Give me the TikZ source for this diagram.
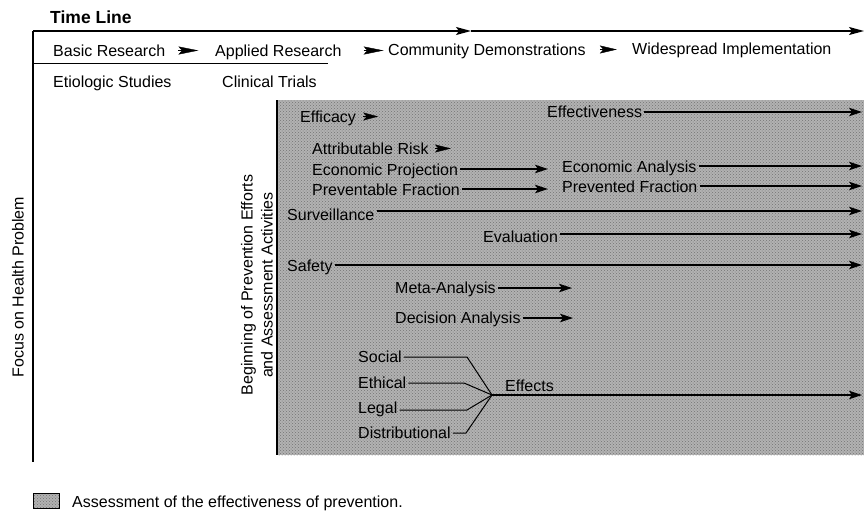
\documentclass[tikz,border=0pt]{standalone}
\usepackage{fontspec}
\setmainfont{Liberation Sans}
\usetikzlibrary{arrows.meta,patterns}
\begin{document}
\begin{tikzpicture}[x=1pt,y=-1pt,
  lbl/.style={anchor=base west, inner xsep=2pt, inner ysep=1pt, font=\fontsize{16}{20}\selectfont},
  heading/.style={anchor=base west, inner sep=0pt, font=\bfseries\fontsize{17.5}{21}\selectfont},
  rotlbl/.style={rotate=90, anchor=center, inner sep=0pt, font=\fontsize{16}{20}\selectfont},
  axis/.style={line width=1.1pt},
  timeline/.style={line width=1.3pt, -{Stealth[length=15pt,width=8pt,inset=3pt]}},
  conn/.style={line width=1.1pt, -{Stealth[length=13pt,width=8.5pt,inset=3pt]}},
  branch/.style={line width=1pt},
  tipmark/.style={line width=0.4pt, -{Stealth[length=#1,width=8pt,inset=3.5pt]}},
  tipmark/.default=18pt,
  assess/.style={fill=black!30},
  assessdots/.style={pattern=crosshatch dots, pattern color=black!55},
]
\useasboundingbox (0,0) rectangle (864,512);

% shaded assessment region and its left border
\fill[assess] (277,100) rectangle (864,455);
\fill[assessdots] (277,100) rectangle (864,455);
\coordinate (begTop) at (277,100);
\coordinate (begBot) at (277,455);
\draw[axis] (begTop) -- (begBot);

% time line frame
\node[heading] (title) at (50,23) {Time Line};
\coordinate (tl0) at (33,31);
\coordinate (tlm) at (471,31);
\coordinate (tl1) at (864,31);
\coordinate (axbot) at (33,462);
\draw[timeline] (tl0) -- (tlm);
\draw[timeline] (tlm) -- (tl1);
\draw[axis] (tl0) -- (axbot);
\coordinate (sep0) at (33,63);
\coordinate (sep1) at (328,63);
\draw[line width=0.9pt] (sep0) -- (sep1);

% research stages
\node[lbl] (basic) at (51,56) {Basic Research};
\node[lbl] (applied) at (213,56) {Applied Research};
\node[lbl] (commun) at (386,55) {Community Demonstrations};
\node[lbl] (wide) at (630,54) {Widespread Implementation};
\draw[tipmark=20pt] ([xshift=11pt,yshift=5.5pt]basic.base east) -- ++(20pt,0);
\draw[tipmark=20pt] ([xshift=20pt,yshift=5.5pt]applied.base east) -- ++(20pt,0);
\draw[tipmark=17pt] ([xshift=12pt,yshift=5.5pt]commun.base east) -- ++(17pt,0);

\node[lbl] (etio) at (51,87) {Etiologic Studies};
\node[lbl] (clin) at (220,87) {Clinical Trials};

% vertical labels
\node[rotlbl] (focus) at (18,287) {Focus on Health Problem};
\node[rotlbl, align=center] (begin) at (257,285) {Beginning of Prevention Efforts\\and Assessment Activities};

% assessment activities
\node[lbl] (eff) at (298,122) {Efficacy};
\node[lbl] (effv) at (545,117) {Effectiveness};
\node[lbl] (attr) at (310,154) {Attributable Risk};
\node[lbl] (eproj) at (310,175) {Economic Projection};
\node[lbl] (eana) at (560,172) {Economic Analysis};
\node[lbl] (prevf) at (310,195) {Preventable Fraction};
\node[lbl] (prevd) at (560,192) {Prevented Fraction};
\node[lbl] (surv) at (285,220) {Surveillance};
\node[lbl] (evalu) at (481,242) {Evaluation};
\node[lbl] (safety) at (285,271) {Safety};
\node[lbl] (meta) at (393,293) {Meta-Analysis};
\node[lbl] (decis) at (393,323) {Decision Analysis};
\node[lbl] (social) at (356,362) {Social};
\node[lbl] (ethical) at (356,388) {Ethical};
\node[lbl] (legal) at (356,413) {Legal};
\node[lbl] (distr) at (356,438) {Distributional};
\node[lbl] (effects) at (503,391) {Effects};

\draw[tipmark=15pt] ([xshift=5pt,yshift=5.5pt]eff.base east) -- ++(15pt,0);
\draw[tipmark=16pt] ([xshift=4pt,yshift=5.5pt]attr.base east) -- ++(16pt,0);

% connector end points
\coordinate (effvEnd) at (862,112);
\coordinate (eanaEnd) at (862,166);
\coordinate (prevdEnd) at (862,186);
\coordinate (survEnd) at (862,211);
\coordinate (evalEnd) at (862,234);
\coordinate (safeEnd) at (862,265);
\coordinate (effectsEnd) at (862,395);
\coordinate (ecoTip) at (548,169);
\coordinate (fracTip) at (548,189);
\coordinate (metaTip) at (572,288);
\coordinate (decTip) at (573,318);

\draw[conn] (effv.east |- effvEnd) -- (effvEnd);
\draw[conn] (eproj.east |- ecoTip) -- (ecoTip);
\draw[conn] (eana.east |- eanaEnd) -- (eanaEnd);
\draw[conn] (prevf.east |- fracTip) -- (fracTip);
\draw[conn] (prevd.east |- prevdEnd) -- (prevdEnd);
\draw[conn] (surv.east |- survEnd) -- (survEnd);
\draw[conn] (evalu.east |- evalEnd) -- (evalEnd);
\draw[conn] (safety.east |- safeEnd) -- (safeEnd);
\draw[conn] (meta.east |- metaTip) -- (metaTip);
\draw[conn] (decis.east |- decTip) -- (decTip);

% effects branches converging on one arrow
\coordinate (hub) at (492,395);
\coordinate (socK) at (467,357);
\coordinate (ethK) at (464,383);
\coordinate (legK) at (467,410);
\coordinate (disK) at (466,433);
\draw[branch] (social.east |- socK) -- (socK) -- (hub);
\draw[branch] (ethical.east |- ethK) -- (ethK) -- (hub);
\draw[branch] (legal.east |- legK) -- (legK) -- (hub);
\draw[branch] (distr.east |- disK) -- (disK) -- (hub);
\draw[conn] (hub) -- (effectsEnd);

% key
\node[assess, anchor=north west, minimum width=26pt, minimum height=15pt, inner sep=0pt] (key) at (33,493) {};
\fill[assessdots] (key.south west) rectangle (key.north east);
\draw[line width=0.8pt] (key.south west) rectangle (key.north east);
\node[lbl] (keytext) at (70,507) {Assessment of the effectiveness of prevention.};
\end{tikzpicture}
\end{document}
